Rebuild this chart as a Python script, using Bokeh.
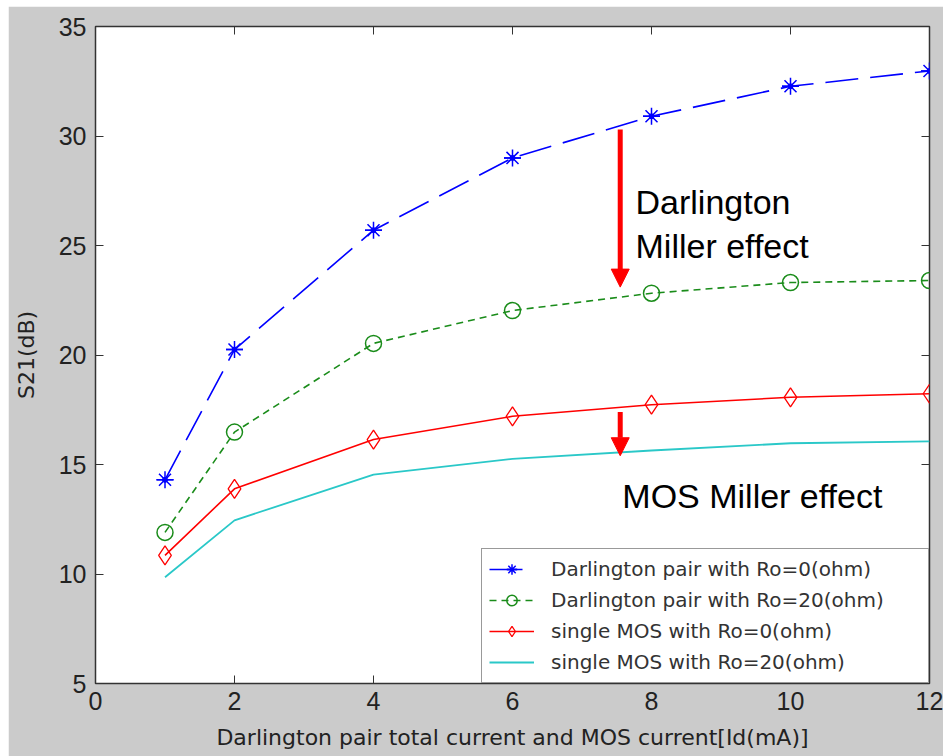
from bokeh.plotting import figure
from bokeh.models import (LinearAxis, Range1d, Legend, LegendItem, Arrow, NormalHead,
                          Label, Spacer, FixedTicker, CustomJSTickFormatter)
from bokeh.layouts import column, row
from bokeh.embed import file_html
from bokeh.resources import INLINE

# Drain current (mA) and measured gain S21 (dB) for each configuration
current_ma = [1, 2, 4, 6, 8, 10, 12]
darlington_ro0 = [14.3, 20.25, 25.7, 29.0, 30.9, 32.27, 32.97]
darlington_ro20 = [11.9, 16.48, 20.53, 22.03, 22.82, 23.31, 23.4]
mos_ro0 = [10.85, 13.89, 16.14, 17.2, 17.73, 18.07, 18.23]
mos_ro20 = [9.85, 12.45, 14.54, 15.26, 15.64, 15.97, 16.06]

x_ticks = [0, 2, 4, 6, 8, 10, 12]
y_ticks = [5, 10, 15, 20, 25, 30, 35]

# Annotation arrows (x, y_start, y_end) and their captions
darl_arrow = (7.55, 30.3, 23.1)
mos_arrow = (7.55, 17.4, 15.4)
darl_text = [(7.77, 27.0, "Darlington"), (7.77, 25.0, "Miller effect")]
mos_text = (7.58, 13.58, "MOS Miller effect")

TICK_FONT = "'Liberation Sans Narrow', 'Liberation Sans', Arial, sans-serif"
LABEL_FONT = "DejaVu Sans"
GRAY = "#cbcbcb"
INK = "#333333"

p = figure(width=935, height=750, output_backend="svg", toolbar_location=None,
           x_range=Range1d(0, 12), y_range=Range1d(5, 35),
           min_border_left=87, min_border_right=14, min_border_top=20, min_border_bottom=73,
           x_axis_label="Darlington pair total current and MOS current[Id(mA)]",
           y_axis_label="S21(dB)")
p.border_fill_color = GRAY
p.background_fill_color = "white"
p.outline_line_color = INK
p.outline_line_width = 1.5
p.xgrid.visible = False
p.ygrid.visible = False

for ax, ticks in ((p.xaxis[0], x_ticks), (p.yaxis[0], y_ticks)):
    ax.ticker = FixedTicker(ticks=ticks)
    ax.major_tick_in = 8
    ax.major_tick_out = 0
    ax.minor_tick_line_color = None
    ax.major_tick_line_color = INK
    ax.axis_line_color = INK
    ax.major_label_text_font = TICK_FONT
    ax.major_label_text_font_size = "25px"
    ax.major_label_text_color = "#222222"
    ax.axis_label_text_font = LABEL_FONT
    ax.axis_label_text_font_size = "22px"
    ax.axis_label_text_font_style = "normal"
    ax.axis_label_text_color = "#222222"
p.xaxis.major_label_standoff = 8
p.yaxis.major_label_standoff = 9
p.xaxis.axis_label_standoff = 12
p.yaxis.axis_label_standoff = 17

# mirrored tick marks (no labels) on the top and right edges of the frame
blank = CustomJSTickFormatter(code="return ''")
for side, ticks in (("above", x_ticks), ("right", y_ticks)):
    mirror = LinearAxis(ticker=FixedTicker(ticks=ticks), major_tick_in=8, major_tick_out=0,
                        minor_tick_line_color=None, major_tick_line_color=INK,
                        axis_line_color=None, formatter=blank,
                        major_label_text_color=None, major_label_standoff=0)
    p.add_layout(mirror, side)

# Darlington pair, Ro = 0
b_line = p.line(current_ma, darlington_ro0, line_color="blue", line_width=1.6, line_dash="33 12")
b_ast = p.scatter(current_ma, darlington_ro0, marker="asterisk", size=17, line_color="blue", line_width=1.5)
b_dash = p.scatter(current_ma, darlington_ro0, marker="dash", size=17, line_color="blue", line_width=1.5)
b_dot = p.scatter(current_ma, darlington_ro0, marker="circle", size=5, line_color="blue", fill_color="blue")

# Darlington pair, Ro = 20
g_line = p.line(current_ma, darlington_ro20, line_color="#1a8c1a", line_width=1.6, line_dash="7 5")
g_mk = p.scatter(current_ma, darlington_ro20, marker="circle", size=16, line_color="#1a8c1a",
                 fill_color=None, line_width=1.5)

# single MOS, Ro = 0
r_line = p.line(current_ma, mos_ro0, line_color="red", line_width=1.6)
r_mk = p.scatter(current_ma, mos_ro0, marker="diamond", size=19, line_color="red",
                 fill_color=None, line_width=1.3)

# single MOS, Ro = 20
c_line = p.line(current_ma, mos_ro20, line_color="#2ac8c8", line_width=1.8)

# Miller-effect arrows and captions
for ax_x, y0, y1 in (darl_arrow, mos_arrow):
    p.add_layout(Arrow(end=NormalHead(size=18, fill_color="red", line_color="red"),
                       x_start=ax_x, y_start=y0, x_end=ax_x, y_end=y1,
                       line_color="red", line_width=5))
for tx, ty, txt in darl_text + [mos_text]:
    p.add_layout(Label(x=tx, y=ty, text=txt, text_font="Liberation Sans",
                       text_font_size="34px", text_color="black",
                       text_baseline="alphabetic", text_align="left"))

legend = Legend(items=[
    LegendItem(label="Darlington pair with Ro=0(ohm)", renderers=[b_line, b_ast, b_dash]),
    LegendItem(label="Darlington pair with Ro=20(ohm)", renderers=[g_line, g_mk]),
    LegendItem(label="single MOS with Ro=0(ohm)", renderers=[r_line, r_mk]),
    LegendItem(label="single MOS with Ro=20(ohm)", renderers=[c_line]),
], location="bottom_right")
legend.margin = 0
legend.padding = 7
legend.spacing = 5
legend.glyph_width = 45
legend.glyph_height = 26
legend.label_height = 26
legend.label_width = 370
legend.label_standoff = 17
legend.label_text_font = LABEL_FONT
legend.label_text_font_size = "20px"
legend.label_text_color = INK
legend.border_line_color = INK
legend.border_line_width = 1.2
legend.background_fill_color = "white"
legend.background_fill_alpha = 1.0
p.add_layout(legend)

page = column(Spacer(height=6), row(Spacer(width=8), p))
open("out.html", "w").write(file_html(page, INLINE))
